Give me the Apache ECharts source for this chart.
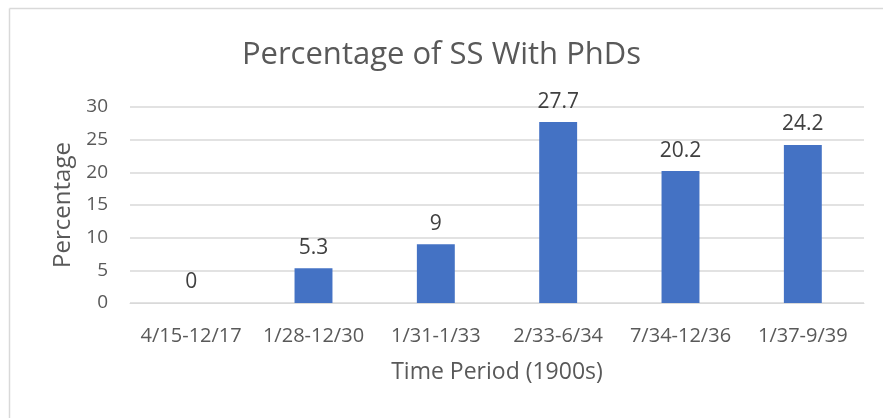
<!DOCTYPE html>
<html><head><meta charset="utf-8">
<script src="https://cdn.jsdelivr.net/npm/echarts@6/dist/echarts.min.js"></script>
<style>html,body{margin:0;padding:0;background:#fff}#c{width:883px;height:418px}</style>
</head><body><div id="c"></div>
<script>
const categories = ['4/15-12/17','1/28-12/30','1/31-1/33','2/33-6/34','7/34-12/36','1/37-9/39'];
const values = [0, 5.3, 9, 27.7, 20.2, 24.2];
const yTicks = [0, 5, 10, 15, 20, 25, 30];
const FONT = '"Open Sans", "Noto Sans", sans-serif';
const chart = echarts.init(document.getElementById('c'));
chart.setOption({
  backgroundColor: '#fff',
  animation: false,
  graphic: [
    {type:'line', shape:{x1:9.5,y1:8.5,x2:883,y2:8.5}, style:{stroke:'#d9d9d9', lineWidth:1.5}, z:-1},
    {type:'line', shape:{x1:9.5,y1:8.5,x2:9.5,y2:418}, style:{stroke:'#d9d9d9', lineWidth:1.5}, z:-1}
  ],
  title: {text:'Percentage of SS With PhDs', left:'center', top:35, textStyle:{fontFamily:FONT, fontSize:31, fontWeight:'normal', color:'#595959'}},
  grid: {left:130, right:19, top:107, bottom:115},
  xAxis: {type:'category', data:categories, name:'Time Period (1900s)', nameLocation:'middle', nameGap:58,
    nameTextStyle:{fontFamily:FONT, fontSize:23, color:'#595959'},
    axisLine:{lineStyle:{color:'#d9d9d9'}}, axisTick:{show:false},
    axisLabel:{fontFamily:FONT, fontSize:20, color:'#595959', margin:23, interval:0}},
  yAxis: {type:'value', min:yTicks[0], max:yTicks[yTicks.length-1], interval:5, name:'Percentage', nameLocation:'middle', nameGap:54,
    nameTextStyle:{fontFamily:FONT, fontSize:24, color:'#595959'},
    axisLine:{show:false}, axisTick:{show:false},
    axisLabel:{fontFamily:FONT, fontSize:19, color:'#595959', margin:22},
    splitLine:{lineStyle:{color:'#d9d9d9', width:1.5}}},
  series: [{type:'bar', data:values, barWidth:'31%', itemStyle:{color:'#4472C4'},
    label:{show:true, position:'top', distance:10, fontFamily:FONT, fontSize:21, color:'#404040'}}]
});
</script></body></html>
